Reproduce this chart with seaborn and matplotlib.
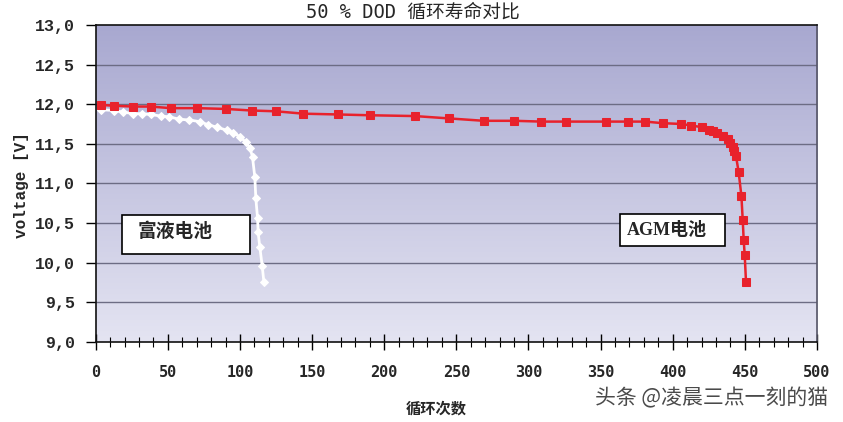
import numpy as np
import pandas as pd
import matplotlib
matplotlib.use("Agg")
import matplotlib.pyplot as plt
import seaborn as sns
from matplotlib.colors import LinearSegmentedColormap
from matplotlib.patches import Rectangle
from matplotlib.ticker import MultipleLocator, FixedLocator

# ---------------- data ----------------
agm_cycles = [4, 13, 26, 38, 52, 70, 90, 108, 125, 144, 168, 190, 221, 245, 269,
              290, 309, 326, 354, 369, 381, 393, 406, 413, 420, 425, 428, 431,
              435, 438, 440, 441.6, 442.7, 443.9, 445.7, 447.6, 448.5, 449.2,
              449.9, 450.8]
agm_voltage = [11.99, 11.98, 11.97, 11.97, 11.95, 11.95, 11.94, 11.92, 11.91, 11.88,
               11.87, 11.86, 11.85, 11.82, 11.79, 11.79, 11.78, 11.78, 11.78, 11.78,
               11.78, 11.76, 11.75, 11.73, 11.71, 11.68, 11.66, 11.63, 11.60, 11.56,
               11.51, 11.46, 11.41, 11.34, 11.14, 10.84, 10.54, 10.28, 10.09, 9.75]

flooded_cycles = [4, 13, 19, 26, 32, 38, 45, 51, 58, 65, 72, 78, 84, 91, 95, 100,
                  104, 107, 108.7, 110.3, 111.0, 112.2, 112.6, 113.8, 115.4, 116.6]
flooded_voltage = [11.93, 11.92, 11.90, 11.88, 11.88, 11.87, 11.85, 11.84, 11.81,
                   11.80, 11.78, 11.74, 11.71, 11.67, 11.64, 11.59, 11.52, 11.45,
                   11.33, 11.08, 10.81, 10.56, 10.38, 10.19, 9.96, 9.75]

x_ticks = [0, 50, 100, 150, 200, 250, 300, 350, 400, 450, 500]
y_ticks = [9.0, 9.5, 10.0, 10.5, 11.0, 11.5, 12.0, 12.5, 13.0]
y_tick_labels = ["9,0", "9,5", "10,0", "10,5", "11,0", "11,5", "12,0", "12,5", "13,0"]

title = "50 % DOD 循环寿命对比"
x_label = "循环次数"
y_label = "voltage [V]"
label_flooded = "富液电池"
label_agm = "AGM电池"
watermark = "头条 @凌晨三点一刻的猫"

# ---------------- style ----------------
sns.set_style("white")
plt.rcParams["font.family"] = ["DejaVu Sans", "Noto Sans CJK SC"]

fig = plt.figure(figsize=(8.43, 4.22), dpi=100)
ax = fig.add_axes([95.7 / 843, 1 - 341.7 / 422, (817 - 95.7) / 843, (341.7 - 25) / 422])

# gradient background
cmap = LinearSegmentedColormap.from_list("bg", ["#e4e4f2", "#a8a8d0"])
grad = np.linspace(0, 1, 256).reshape(-1, 1)
ax.imshow(grad, extent=[0, 500, 9, 13], origin="lower", aspect="auto",
          cmap=cmap, zorder=0, interpolation="bicubic")

for yv in y_ticks[1:-1]:
    ax.axhline(yv, color="#6c6c84", lw=1.0, zorder=1)

df_agm = pd.DataFrame({"cycles": agm_cycles, "voltage": agm_voltage})
df_fl = pd.DataFrame({"cycles": flooded_cycles, "voltage": flooded_voltage})

sns.lineplot(data=df_fl, x="cycles", y="voltage", ax=ax, color="white",
             marker="D", markersize=4, markeredgecolor="white", lw=2.0,
             sort=False, zorder=3)
sns.lineplot(data=df_agm, x="cycles", y="voltage", ax=ax, color="#e8222c",
             marker="s", markersize=6, markeredgecolor="#e8222c", lw=1.8,
             sort=False, zorder=4)

ax.set_xlim(0, 500)
ax.set_ylim(9, 13)

ax.xaxis.set_major_locator(FixedLocator(x_ticks))
ax.xaxis.set_minor_locator(MultipleLocator(10))
ax.set_yticks(y_ticks)
ax.set_yticklabels(y_tick_labels)

ax.tick_params(axis="x", which="major", direction="inout", length=12, width=1,
               color="black", pad=11, bottom=True)
ax.tick_params(axis="x", which="minor", direction="inout", length=7, width=0.8,
               color="black", bottom=True)
ax.tick_params(axis="y", which="major", direction="out", length=7, width=1,
               color="black", pad=8, left=True)

for lab in ax.get_xticklabels():
    lab.set_fontfamily("DejaVu Sans Mono")
    lab.set_fontweight("bold")
    lab.set_fontsize(11)
for lab in ax.get_yticklabels():
    lab.set_fontfamily("Liberation Mono")
    lab.set_fontweight("bold")
    lab.set_fontsize(12)

for side in ["left", "bottom", "top"]:
    ax.spines[side].set_color("#111111")
    ax.spines[side].set_linewidth(1.2)
ax.spines["right"].set_color("#555566")
ax.spines["right"].set_linewidth(1.2)
for s in ax.spines.values():
    s.set_visible(True)

ax.set_xlabel("")
ax.set_ylabel("")

# label boxes
ax.add_patch(Rectangle((18.0, 10.11), 89.3, 0.494, facecolor="white",
                       edgecolor="black", lw=1.2, zorder=5))
ax.text(55, 10.39, label_flooded, ha="center", va="center", fontsize=13.5,
        fontweight="bold", family=["Noto Sans CJK SC"], zorder=6)
ax.add_patch(Rectangle((363.1, 10.203), 73.2, 0.405, facecolor="white",
                       edgecolor="black", lw=1.2, zorder=5))
ax.text(395.6, 10.40, label_agm, ha="center", va="center", fontsize=13,
        fontweight="bold", family=["Liberation Serif", "Noto Sans CJK SC"], zorder=6)

# texts
fig.text(413 / 843, 1 - 12 / 422, title, ha="center", va="center", fontsize=13.5,
         family=["DejaVu Sans Mono", "Noto Sans CJK SC"])
fig.text(22 / 843, 1 - 185 / 422, y_label, ha="center", va="center", rotation=90,
         fontsize=11.5, fontweight="bold", family=["Liberation Mono"])
fig.text(436 / 843, 1 - 409 / 422, x_label, ha="center", va="center", fontsize=11,
         fontweight="bold", family=["Noto Sans CJK SC"])
fig.text(712 / 843, 1 - 398 / 422, watermark, ha="center", va="center", fontsize=15,
         color="#4a4a4a", family=["Noto Sans CJK SC", "DejaVu Sans"])

fig.savefig("out.png", dpi=100)
